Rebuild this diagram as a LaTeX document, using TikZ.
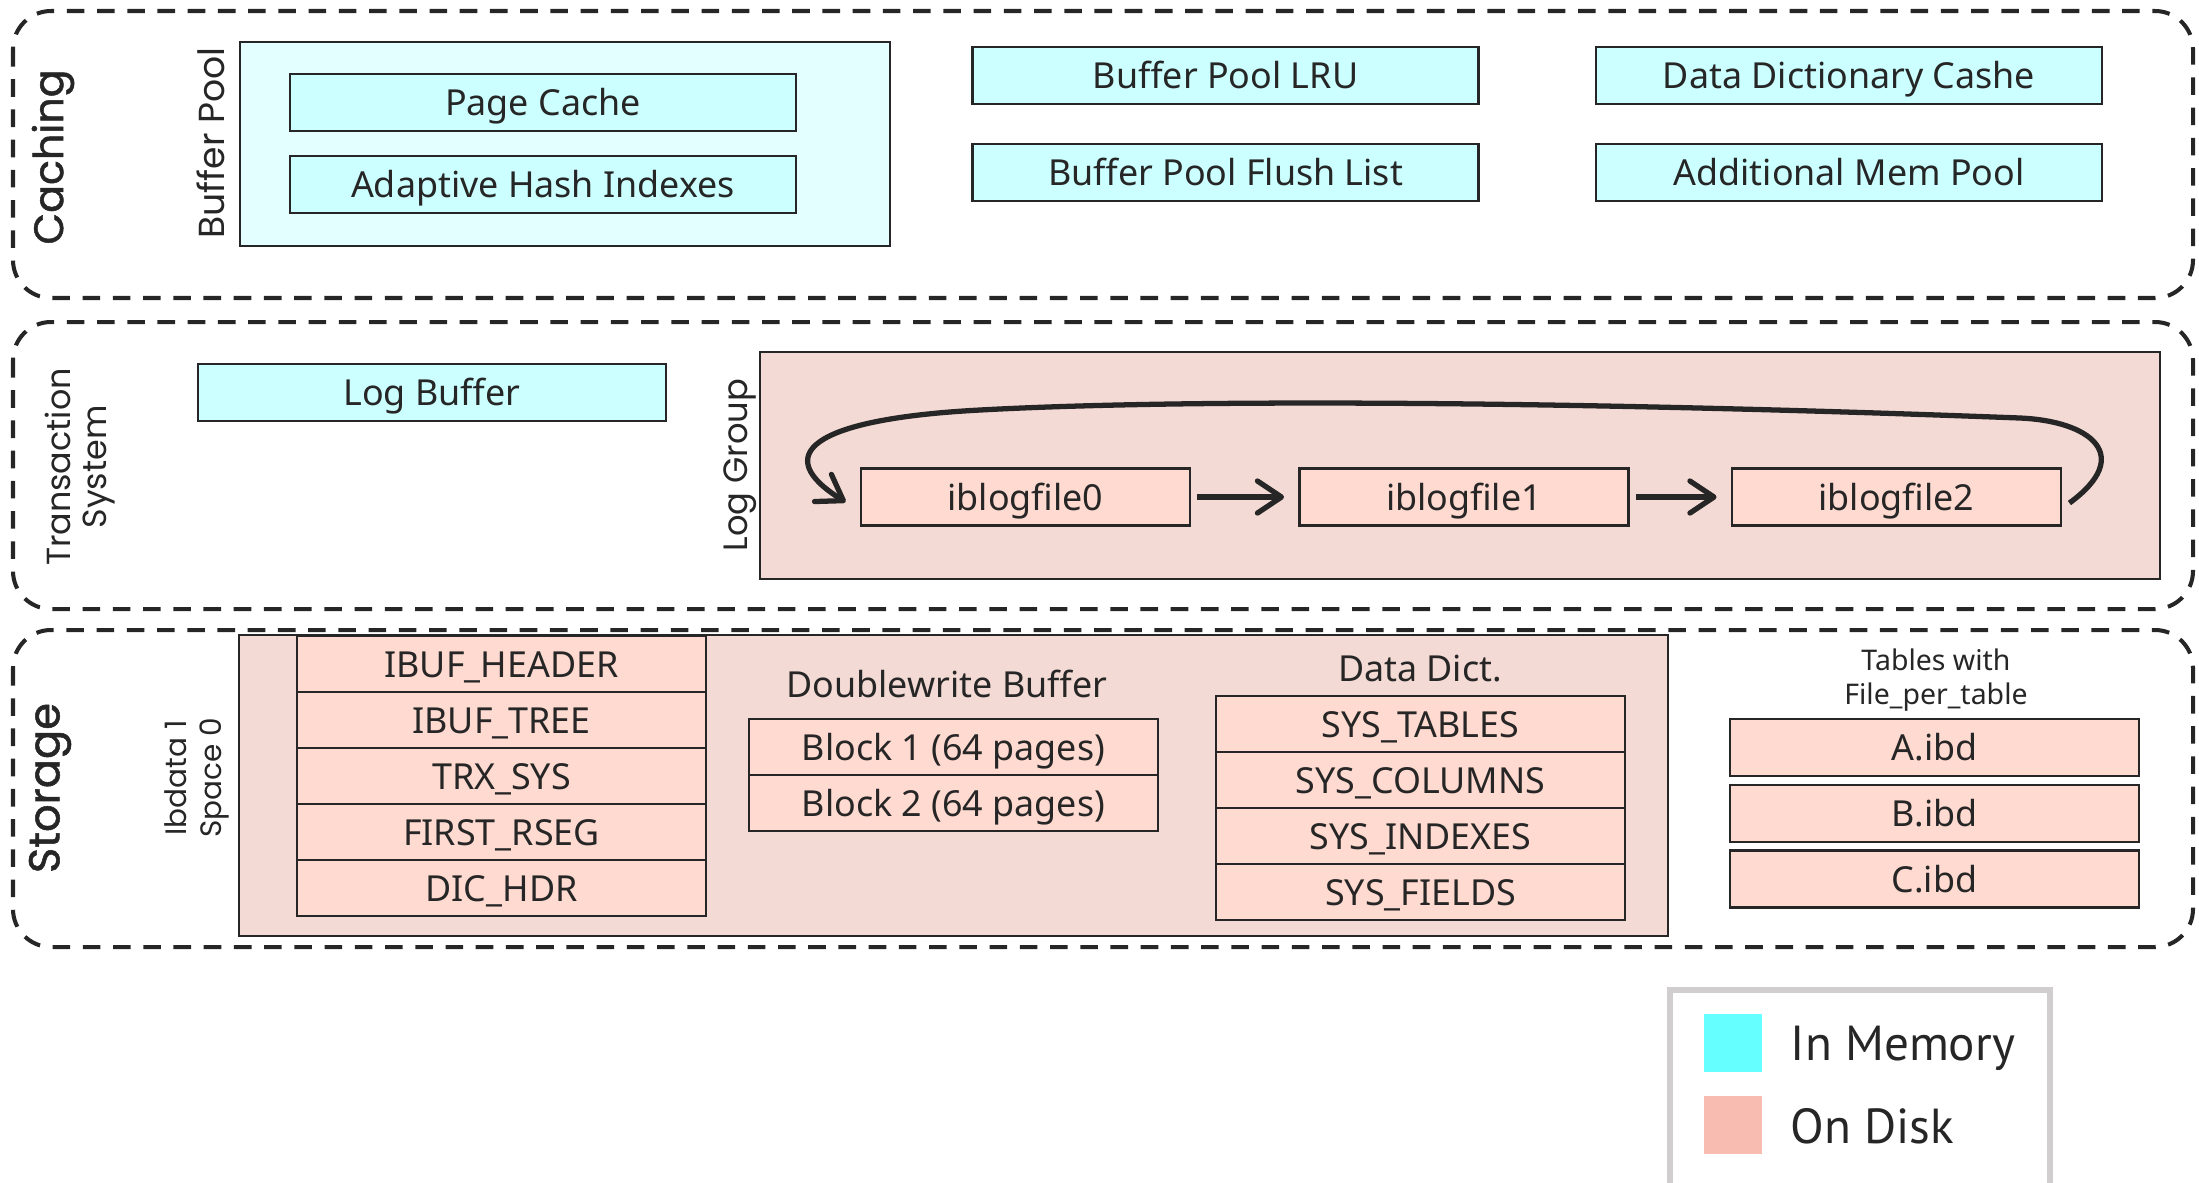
\documentclass[tikz,border=0pt]{standalone}
\usepackage{fontspec}
\setmainfont{Noto Sans}
\newfontfamily\tagfont{Poppins}
\newfontfamily\layerfont{Poppins}[FakeBold=1.2]
\newfontfamily\keyfont{PT Sans}
\usetikzlibrary{arrows.meta}

\definecolor{ink}{HTML}{262626}
\definecolor{memfill}{HTML}{CCFFFF}
\definecolor{poolfill}{HTML}{E3FFFF}
\definecolor{diskfill}{HTML}{FFDAD0}
\definecolor{groupfill}{HTML}{F4DAD4}
\definecolor{keymem}{HTML}{66FFFF}
\definecolor{keydisk}{HTML}{F8BCB0}
\definecolor{keyframe}{HTML}{D0CECF}

\tikzset{
	layer/.style={draw=ink, line width=1.15pt, dash pattern=on 5pt off 3.6pt, rounded corners=0.38cm},
	holder/.style={draw=ink, line width=0.7pt},
	memcell/.style={draw=ink, line width=0.8pt, fill=memfill, text=ink, inner sep=0pt, text height=7.4pt, text depth=0pt, font=\fontsize{10.2}{12}\selectfont},
	diskcell/.style={memcell, fill=diskfill},
	tag/.style={rotate=90, text=ink, align=center, inner sep=0pt},
	plain/.style={text=ink, inner sep=0pt, font=\fontsize{10.2}{12}\selectfont},
	logarrow/.style={draw=ink, line width=1.5pt, -{Straight Barb[length=2.4mm, width=3.2mm, round]}},
	swatch/.style={inner sep=0pt, minimum width=0.58cm, minimum height=0.58cm}
}

\begin{document}
\begin{tikzpicture}
	%%%%% START %%%%%
	\def\hc{0.57cm}
	\def\hr{0.56cm}
	\def\wbox{5.06cm}
	\def\wlog{3.29cm}
	\def\wrow{4.09cm}
	\def\xrow{5.015}
	\def\xsys{14.205}
	\def\xibd{19.345}

	\useasboundingbox (0,0) rectangle (21.99,-11.82);

	% caching layer
	\draw[layer] (0.13,-0.11) rectangle (21.93,-2.98);
	\node[tag, font=\layerfont\fontsize{11.7}{14}\selectfont] (caching) at (0.53,-1.57) {Caching};

	\draw[holder, fill=poolfill] (2.40,-0.42) rectangle (8.90,-2.46);
	\node[tag, font=\tagfont\fontsize{10.3}{12}\selectfont] (bufpool) at (2.11,-1.43) {Buffer Pool};
	\node[memcell, minimum width=\wbox, minimum height=\hc] (pagecache) at (5.43,-1.025) {Page Cache};
	\node[memcell, minimum width=\wbox, minimum height=\hc] (hashidx) at (5.43,-1.845) {Adaptive Hash Indexes};

	\node[memcell, minimum width=\wbox, minimum height=\hc] (lru) at (12.255,-0.755) {Buffer Pool LRU};
	\node[memcell, minimum width=\wbox, minimum height=\hc] (flush) at (12.255,-1.725) {Buffer Pool Flush List};
	\node[memcell, minimum width=\wbox, minimum height=\hc] (dictcache) at (18.49,-0.755) {Data Dictionary Cashe};
	\node[memcell, minimum width=\wbox, minimum height=\hc] (mempool) at (18.49,-1.725) {Additional Mem Pool};

	% transaction layer
	\draw[layer] (0.13,-3.22) rectangle (21.93,-6.09);
	\node[tag, font=\tagfont\fontsize{9.5}{10.4}\selectfont] (trx) at (0.80,-4.67) {Transaction\\System};
	\node[memcell, minimum width=4.68cm, minimum height=\hc] (logbuf) at (4.32,-3.925) {Log Buffer};

	\draw[holder, fill=groupfill] (7.60,-3.52) rectangle (21.60,-5.79);
	\node[tag, font=\tagfont\fontsize{9.6}{11}\selectfont] (loggroup) at (7.40,-4.65) {Log Group};
	\node[diskcell, minimum width=\wlog, minimum height=\hc] (iblogfile0) at (10.255,-4.97) {iblogfile0};
	\node[diskcell, minimum width=\wlog, minimum height=\hc] (iblogfile1) at (14.64,-4.97) {iblogfile1};
	\node[diskcell, minimum width=\wlog, minimum height=\hc] (iblogfile2) at (18.965,-4.97) {iblogfile2};

	\draw[logarrow, shorten <=0.06cm, shorten >=0.14cm] (iblogfile0) -- (iblogfile1);
	\draw[logarrow, shorten <=0.06cm, shorten >=0.14cm] (iblogfile1) -- (iblogfile2);

	\coordinate (loopR) at (20.20,-4.18);
	\coordinate (loopL) at (9.80,-4.10);
	\draw[logarrow] ([xshift=0.07cm,yshift=-0.06cm]iblogfile2.east) .. controls (21.35,-4.55) and (20.90,-4.21) .. (loopR)
		.. controls (16,-4.02) and (12,-3.98) .. (loopL)
		.. controls (8.10,-4.19) and (7.70,-4.55) .. ([xshift=-0.14cm,yshift=-0.05cm]iblogfile0.west);

	% storage layer
	\draw[layer] (0.13,-6.30) rectangle (21.93,-9.47);
	\node[tag, font=\layerfont\fontsize{12.3}{14}\selectfont] (storage) at (0.50,-7.88) {Storage};

	\draw[holder, fill=groupfill] (2.39,-6.35) rectangle (16.68,-9.36);
	\node[tag, font=\tagfont\fontsize{8.4}{10}\selectfont] (ibdata) at (1.97,-7.78) {Ibdata 1\\Space 0};

	\node[diskcell, minimum width=\wrow, minimum height=\hr] (ibufhead) at (\xrow,-6.64) {IBUF\_HEADER};
	\node[diskcell, minimum width=\wrow, minimum height=\hr] (ibuftree) at (\xrow,-7.20) {IBUF\_TREE};
	\node[diskcell, minimum width=\wrow, minimum height=\hr] (trxsys) at (\xrow,-7.76) {TRX\_SYS};
	\node[diskcell, minimum width=\wrow, minimum height=\hr] (rseg) at (\xrow,-8.32) {FIRST\_RSEG};
	\node[diskcell, minimum width=\wrow, minimum height=\hr] (dichdr) at (\xrow,-8.88) {DIC\_HDR};

	\node[plain, anchor=base] (dwb) at (9.47,-6.97) {Doublewrite Buffer};
	\node[diskcell, minimum width=\wrow, minimum height=\hr] (block1) at (9.535,-7.47) {Block 1 (64 pages)};
	\node[diskcell, minimum width=\wrow, minimum height=\hr] (block2) at (9.535,-8.03) {Block 2 (64 pages)};

	\node[plain, anchor=base] (datadict) at (14.20,-6.81) {Data Dict.};
	\node[diskcell, minimum width=\wrow, minimum height=\hr] (systables) at (\xsys,-7.24) {SYS\_TABLES};
	\node[diskcell, minimum width=\wrow, minimum height=\hr] (syscolumns) at (\xsys,-7.80) {SYS\_COLUMNS};
	\node[diskcell, minimum width=\wrow, minimum height=\hr] (sysindexes) at (\xsys,-8.36) {SYS\_INDEXES};
	\node[diskcell, minimum width=\wrow, minimum height=\hr] (sysfields) at (\xsys,-8.92) {SYS\_FIELDS};

	\node[plain, align=center, font=\fontsize{8.1}{9.7}\selectfont] (pertable) at (19.36,-6.80) {Tables with\\File\_per\_table};
	\node[diskcell, minimum width=\wrow, minimum height=\hc] (aibd) at (\xibd,-7.475) {A.ibd};
	\node[diskcell, minimum width=\wrow, minimum height=\hc] (bibd) at (\xibd,-8.135) {B.ibd};
	\node[diskcell, minimum width=\wrow, minimum height=\hc] (cibd) at (\xibd,-8.79) {C.ibd};

	% legend
	\draw[keyframe, line width=1.7pt] (16.70,-9.90) rectangle (20.50,-12.10);
	\node[swatch, fill=keymem] (memkey) at (17.33,-10.43) {};
	\node[swatch, fill=keydisk] (diskkey) at (17.325,-11.25) {};
	\node[plain, anchor=base west, font=\keyfont\fontsize{14}{16}\selectfont] (memtext) at (17.90,-10.60) {In Memory};
	\node[plain, anchor=base west, font=\keyfont\fontsize{14}{16}\selectfont] (disktext) at (17.90,-11.43) {On Disk};
	%%%%% END %%%%%
\end{tikzpicture}
\end{document}
